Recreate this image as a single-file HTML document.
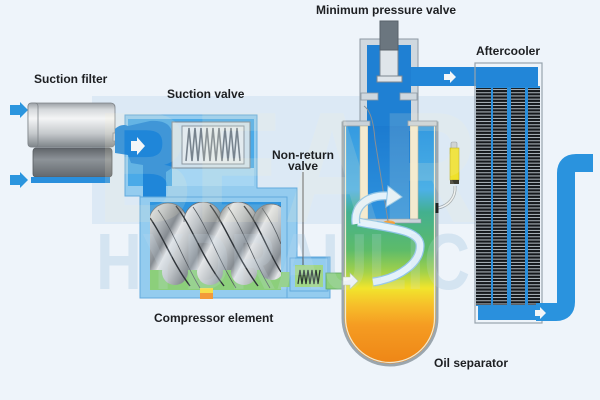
<!DOCTYPE html>
<html><head><meta charset="utf-8">
<style>
html,body{margin:0;padding:0;background:#eef4fa;}
svg{display:block;}
text{font-family:"Liberation Sans",Arial,sans-serif;font-weight:bold;font-size:12px;fill:#1d1f22;}
</style></head><body>
<svg width="600" height="400" viewBox="0 0 600 400" xmlns="http://www.w3.org/2000/svg">
<defs>
 <linearGradient id="silver" x1="0" y1="0" x2="0" y2="1">
  <stop offset="0" stop-color="#9aa0a5"/><stop offset="0.15" stop-color="#d6d9dc"/><stop offset="0.35" stop-color="#f4f5f6"/><stop offset="0.7" stop-color="#c4c8cb"/><stop offset="1" stop-color="#7f858a"/>
 </linearGradient>
 <linearGradient id="dgray" x1="0" y1="0" x2="0" y2="1">
  <stop offset="0" stop-color="#5f6469"/><stop offset="0.4" stop-color="#8d9398"/><stop offset="1" stop-color="#63686d"/>
 </linearGradient>
 <linearGradient id="sep" x1="0" y1="123" x2="0" y2="365" gradientUnits="userSpaceOnUse">
  <stop offset="0" stop-color="#3399e0"/><stop offset="0.277" stop-color="#4cb0e6"/><stop offset="0.368" stop-color="#43b08f"/><stop offset="0.525" stop-color="#5dbb6a"/><stop offset="0.616" stop-color="#a3d14a"/><stop offset="0.682" stop-color="#f1e52c"/><stop offset="0.752" stop-color="#f6bf2a"/><stop offset="0.835" stop-color="#f59c22"/><stop offset="1" stop-color="#ee8516"/>
 </linearGradient>
 <linearGradient id="cart" x1="0" y1="0" x2="0" y2="1">
  <stop offset="0" stop-color="#1c7bd0"/><stop offset="1" stop-color="#2f93de"/>
 </linearGradient>
 <linearGradient id="rotor" x1="150" y1="205" x2="182" y2="222" gradientUnits="userSpaceOnUse" spreadMethod="repeat">
  <stop offset="0" stop-color="#e4e6e8"/><stop offset="0.4" stop-color="#bcc1c5"/><stop offset="0.8" stop-color="#868c92"/><stop offset="1" stop-color="#d8dbde"/>
 </linearGradient>
 <pattern id="coil" width="6" height="3.2" patternUnits="userSpaceOnUse">
  <rect width="6" height="3.2" fill="#c3ccd3"/><rect y="0.4" width="6" height="2.3" fill="#15181c"/>
 </pattern>
 <clipPath id="rc"><rect x="150" y="202" width="131" height="88"/></clipPath>
</defs>

<!-- background + watermark band -->
<rect width="600" height="400" fill="#eef4fa"/>
<rect x="92" y="96" width="386" height="128" fill="#dce9f5"/>
<text x="96" y="289" font-size="80" textLength="374" lengthAdjust="spacingAndGlyphs" style="font-size:80px;fill:#d6e5f2">HYDRAULIC</text>

<!-- ===== Suction filter ===== -->
<polygon points="10,105 20,105 20,102 28,110 20,118 20,115 10,115" fill="#2b95de"/>
<polygon points="10,175 20,175 20,172 28,180 20,188 20,185 10,185" fill="#2b95de"/>
<rect x="28" y="103" width="87" height="44" rx="4" fill="url(#silver)" stroke="#7d8388" stroke-width="0.8"/>
<rect x="28" y="103" width="10" height="44" rx="3" fill="url(#silver)" stroke="#7d8388" stroke-width="0.8"/>
<rect x="113" y="133" width="9" height="8" fill="#cdd1d4" stroke="#878d92" stroke-width="0.8"/>
<rect x="33" y="148" width="79" height="29" rx="3" fill="url(#dgray)" stroke="#575c61" stroke-width="0.8"/>
<rect x="31" y="177" width="79" height="6" fill="#2a8fdc"/>

<!-- ===== Compressor casing ===== -->
<path d="M125 115 H257 V188 H297 V257 H330 V298 H140 V196 H125 Z" fill="#94ccef" stroke="#62aadd" stroke-width="1"/>
<rect x="128" y="119" width="126" height="67" fill="#4aaae8"/>
<rect x="172" y="168" width="82" height="18" fill="#a6d6f3"/>
<path d="M115 129 C119 125,124 124,128 126 L150 121 C165 120,172 125,172 135 L172 168 L166 172 L166 200 L143 200 L143 165 L131 163 L128 155 L115 153 Z" fill="#1f86d9"/>
<polygon points="131,141 137,141 137,137 145,146 137,155 137,151 131,151" fill="#f3f6f8"/>
<!-- suction valve -->
<rect x="172" y="122" width="78" height="46" fill="#cfe1ec" stroke="#7d8b96" stroke-width="1"/>
<rect x="182" y="126" width="62" height="38" fill="#e2eaef" stroke="#8c98a2" stroke-width="1"/>
<polyline points="186,161 189,128 192,161 195,128 198,161 201,128 204,161 207,128 210,161 213,128 216,161 219,128 222,161 225,128 228,161 231,128 234,161 237,128 240,161" fill="none" stroke="#77838e" stroke-width="1.6"/>

<!-- rotor chamber -->
<rect x="140" y="197" width="147" height="101" fill="#94ccef" stroke="#62aadd" stroke-width="1"/>
<rect x="150" y="202" width="131" height="88" fill="#2f95df"/>
<rect x="150" y="270" width="131" height="20" fill="#8ccf7b"/>
<g clip-path="url(#rc)">
 <circle cx="168" cy="222" r="19" fill="url(#rotor)" stroke="#6b7177" stroke-width="0.8"/>
 <circle cx="203" cy="221" r="19" fill="url(#rotor)" stroke="#6b7177" stroke-width="0.8"/>
 <circle cx="238" cy="221" r="19" fill="url(#rotor)" stroke="#6b7177" stroke-width="0.8"/>
 <circle cx="271" cy="222" r="18" fill="url(#rotor)" stroke="#6b7177" stroke-width="0.8"/>
 <circle cx="175" cy="272" r="13" fill="url(#rotor)"/>
 <circle cx="210" cy="272" r="13" fill="url(#rotor)"/>
 <circle cx="244" cy="272" r="13" fill="url(#rotor)"/>
 <circle cx="272" cy="268" r="12" fill="url(#rotor)"/>
 <rect x="150" y="222" width="131" height="48" fill="url(#rotor)"/>
 <g fill="none" stroke="#2f3439" stroke-width="1.4">
  <path d="M150 218 C163 236,172 262,190 286"/>
  <path d="M176 206 C192 226,202 258,224 286"/>
  <path d="M210 205 C226 226,236 256,258 286"/>
  <path d="M244 206 C260 226,268 252,281 272"/>
 </g>
 <g fill="none" stroke="#555b61" stroke-width="0.8">
  <path d="M158 210 C174 232,184 262,200 288"/>
  <path d="M193 207 C209 230,218 260,236 288"/>
  <path d="M228 207 C244 230,252 258,270 288"/>
  <path d="M262 208 C272 222,278 236,281 244"/>
 </g>
</g>
<rect x="200" y="288" width="13" height="5" fill="#f6de4a"/>
<rect x="200" y="293" width="13" height="6" fill="#f39a3a"/>

<!-- non-return valve -->
<rect x="281" y="272" width="14" height="15" fill="#8ccf7b"/>
<rect x="290" y="258" width="38" height="33" fill="#94ccef" stroke="#62aadd" stroke-width="1"/>
<rect x="295" y="265" width="28" height="22" fill="#a0d687"/>
<polyline points="298,284 300,270 302,284 304,270 306,284 308,270 310,284 312,270 314,284 316,270 318,284 320,270" fill="none" stroke="#2c3833" stroke-width="1.3"/>
<rect x="326" y="273" width="19" height="16" fill="#8ccf7d" stroke="#5aa760" stroke-width="0.8"/>
<line x1="303" y1="172" x2="303" y2="265" stroke="#555" stroke-width="1"/>

<!-- ===== Separator ===== -->
<path d="M343 123 L437 123 L437 318 A47 47 0 0 1 343 318 Z" fill="url(#sep)" stroke="#9ba6ae" stroke-width="3"/>
<path d="M345.5 125 L434.5 125 L434.5 318 A44.5 44.5 0 0 1 345.5 318 Z" fill="none" stroke="#efe9d3" stroke-width="1.2"/>
<!-- housing (min pressure valve) -->
<rect x="360" y="39" width="58" height="87" fill="#cfd8df" stroke="#8d99a3" stroke-width="1"/>
<rect x="367" y="45" width="44" height="82" fill="#1f80d3"/>
<rect x="361" y="93" width="17" height="7" fill="#cfd8df" stroke="#8d99a3" stroke-width="0.8"/>
<rect x="400" y="93" width="17" height="7" fill="#cfd8df" stroke="#8d99a3" stroke-width="0.8"/>
<!-- rim -->
<rect x="343" y="121" width="27" height="5" fill="#c9d2d9" stroke="#8d99a3" stroke-width="0.8"/>
<rect x="408" y="121" width="29" height="5" fill="#c9d2d9" stroke="#8d99a3" stroke-width="0.8"/>
<!-- cartridge -->
<rect x="360" y="126" width="8" height="94" fill="#f3ead0" stroke="#b8b49e" stroke-width="0.6"/>
<rect x="410" y="126" width="8" height="94" fill="#f3ead0" stroke="#b8b49e" stroke-width="0.6"/>
<rect x="368" y="126" width="42" height="94" fill="url(#cart)"/>
<rect x="357" y="219" width="64" height="4" fill="#c9d2d9" stroke="#8d99a3" stroke-width="0.6"/>
<ellipse cx="389" cy="223" rx="6" ry="2.5" fill="#f3a13c"/>
<path d="M364 106 Q373 112 375 140 L388 221" fill="none" stroke="#8a8f94" stroke-width="1"/>
<!-- piston -->
<rect x="380" y="21" width="18" height="55" fill="#dfe5ea" stroke="#7c8690" stroke-width="1"/>
<rect x="380" y="21" width="18" height="29" fill="#6b767f" stroke="#58626b" stroke-width="1"/>
<rect x="377" y="76" width="25" height="6" fill="#dfe5ea" stroke="#7c8690" stroke-width="1"/>
<!-- swirl -->
<g fill="none" stroke-linecap="butt">
 <path d="M373 282 C400 278,422 262,420 244 C418 230,390 228,358 222" stroke="#8fc4e6" stroke-width="9"/>
 <path d="M373 282 C400 278,422 262,420 244 C418 230,390 228,358 222" stroke="#e4f2fb" stroke-width="6.5"/>
 <path d="M356 224 C353 206,368 194,390 196" stroke="#8fc4e6" stroke-width="9"/>
 <path d="M356 224 C353 206,368 194,390 196" stroke="#e4f2fb" stroke-width="6.5"/>
</g>
<polygon points="388,186 402,197 386,207" fill="#e4f2fb" stroke="#8fc4e6" stroke-width="1"/>
<!-- inlet arrow -->
<polygon points="343,277 350,277 350,273 358,281 350,289 350,285 343,285" fill="#f3f6f8" stroke="#b5c9b0" stroke-width="0.6"/>
<!-- yellow device -->
<path d="M455 186 C456 198,448 206,438 208" fill="none" stroke="#9aa4ac" stroke-width="3"/>
<path d="M455 186 C456 198,448 206,438 208" fill="none" stroke="#eef2f5" stroke-width="1.4"/>
<rect x="435.5" y="203" width="3" height="10" fill="#222"/>
<rect x="451" y="142" width="6" height="7" rx="1.5" fill="#c9cfd4" stroke="#8a949c" stroke-width="0.6"/>
<rect x="450" y="148" width="9" height="32" fill="#efe12a" stroke="#b9ab10" stroke-width="0.6"/>
<rect x="450" y="180" width="9" height="4" fill="#3a3a30"/>

<!-- ===== Pipe to aftercooler ===== -->
<rect x="411" y="67" width="127" height="19" fill="#2286d8"/>
<polygon points="444,74 450,74 450,71 456,77 450,83 450,80 444,80" fill="#f3f6f8"/>

<!-- ===== Aftercooler ===== -->
<rect x="475" y="63" width="67" height="260" fill="none" stroke="#97a3ad" stroke-width="1.2"/>
<rect x="476" y="86" width="64" height="220" fill="#2a8fdd"/>
<rect x="476" y="88" width="15" height="217" fill="url(#coil)"/>
<rect x="493" y="88" width="14" height="217" fill="url(#coil)"/>
<rect x="511" y="88" width="14" height="217" fill="url(#coil)"/>
<rect x="528" y="88" width="12" height="217" fill="url(#coil)"/>
<rect x="476" y="67" width="62" height="20" fill="#2286d8"/>
<rect x="478" y="305" width="62" height="15" fill="#2a90dd"/>
<path d="M536 312 L556 312 Q566 312 566 302 L566 173 Q566 163 576 163 L593 163" fill="none" stroke="#2a93de" stroke-width="18"/>
<polygon points="535,310 540,310 540,307 546,313 540,319 540,316 535,316" fill="#f3f6f8"/>

<!-- watermark overlay -->
<text x="96" y="222" textLength="382" lengthAdjust="spacingAndGlyphs" style="font-size:158px;fill:#fbf1cf;opacity:0.15">BEAR</text>
<text x="96" y="289" textLength="374" lengthAdjust="spacingAndGlyphs" style="font-size:80px;fill:#cfe0ef;opacity:0.18">HYDRAULIC</text>

<!-- ===== Labels ===== -->
<text x="34" y="83">Suction filter</text>
<text x="167" y="98">Suction valve</text>
<text x="303" y="159" text-anchor="middle">Non-return</text>
<text x="303" y="170" text-anchor="middle">valve</text>
<text x="316" y="14">Minimum pressure valve</text>
<text x="476" y="55">Aftercooler</text>
<text x="154" y="322">Compressor element</text>
<text x="434" y="367">Oil separator</text>
</svg>
</body></html>
